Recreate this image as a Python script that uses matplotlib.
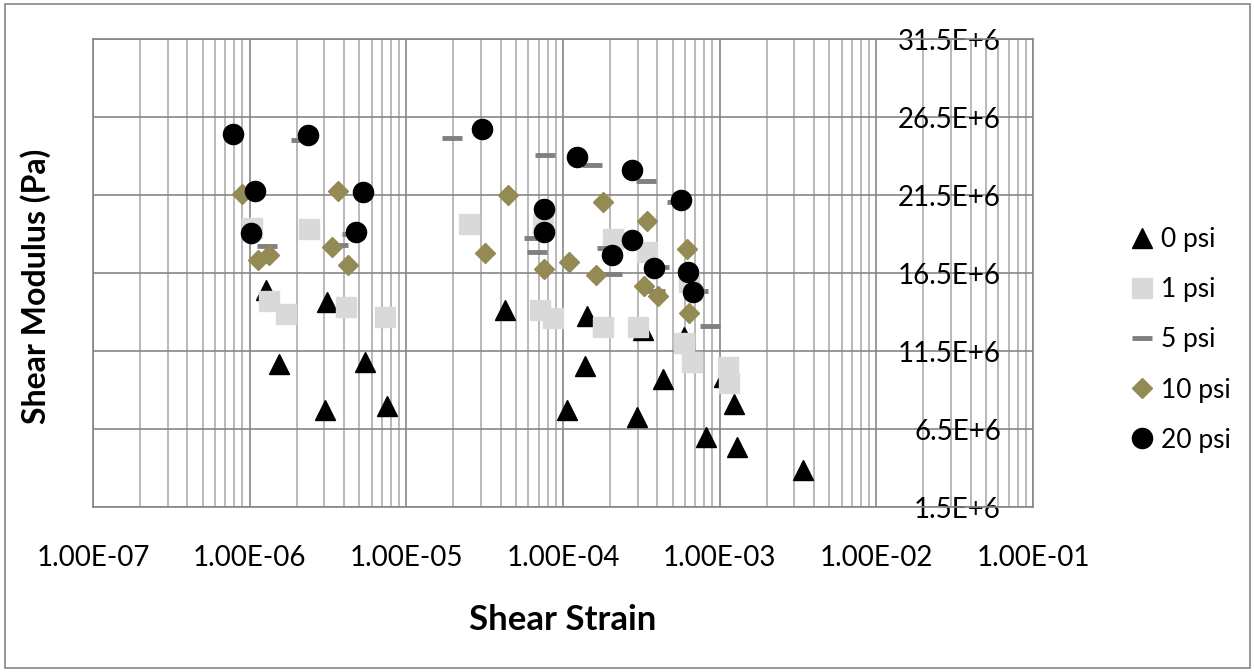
import matplotlib
matplotlib.use("Agg")
import matplotlib.pyplot as plt
import matplotlib.ticker as mticker
from matplotlib import font_manager
from matplotlib.patches import Rectangle

# font: narrow sans looks closest to the Calibri in the original
names = {f.name for f in font_manager.fontManager.ttflist}
if "Liberation Sans Narrow" in names:
    FONT, TICK_FS, LEG_FS, XT_FS, YT_FS = "Liberation Sans Narrow", 22, 21, 28, 26
else:
    FONT, TICK_FS, LEG_FS, XT_FS, YT_FS = "Lato", 20, 19, 25, 23
plt.rcParams["font.family"] = [FONT, "DejaVu Sans"]

# data: shear strain (-) and shear modulus (MPa)
strain_0 = [1.27e-6, 3.12e-6, 1.54e-6, 5.45e-6, 3.03e-6, 7.53e-6, 4.26e-5, 1.42e-4, 3.24e-4,
            1.38e-4, 4.35e-4, 1.06e-4, 2.97e-4, 1.23e-3, 8.18e-4, 1.29e-3, 3.40e-3, 5.92e-4, 1.07e-3]
mod_0 = [15.41, 14.64, 10.67, 10.79, 7.72, 7.97, 14.13, 13.74, 12.85,
         10.54, 9.71, 7.72, 7.27, 8.10, 5.99, 5.35, 3.87, 12.40, 9.83]

strain_1 = [1.03e-6, 2.39e-6, 1.33e-6, 1.71e-6, 4.12e-6, 7.31e-6, 2.51e-5, 7.45e-5, 7.13e-5, 8.63e-5,
            2.09e-4, 3.44e-4, 1.80e-4, 3.01e-4, 6.37e-4, 5.92e-4, 6.66e-4, 1.13e-3, 1.15e-3]
mod_1 = [19.38, 19.32, 14.71, 13.87, 14.32, 13.68, 19.64, 19.64, 14.13, 13.62,
         18.68, 17.85, 13.04, 13.04, 15.92, 12.01, 10.79, 10.47, 9.45]

strain_5 = [2.13e-6, 1.29e-6, 4.50e-6, 3.66e-6, 1.96e-5, 7.67e-5, 1.53e-4, 3.39e-4, 5.34e-4,
            6.53e-5, 6.82e-5, 1.91e-4, 2.06e-4, 4.10e-4, 3.87e-4, 7.27e-4, 8.67e-4]
mod_5 = [25.03, 18.23, 19.00, 18.29, 25.15, 24.06, 23.42, 22.40, 21.05,
         18.74, 17.85, 18.10, 16.44, 16.88, 15.35, 15.35, 13.10]

strain_10 = [8.93e-7, 3.66e-6, 1.13e-6, 1.33e-6, 3.35e-6, 4.24e-6, 4.46e-5, 3.18e-5, 1.80e-4,
             7.56e-5, 1.09e-4, 1.62e-4, 3.44e-4, 6.19e-4, 3.29e-4, 4.04e-4, 6.37e-4]
mod_10 = [21.56, 21.76, 17.33, 17.65, 18.17, 17.01, 21.50, 17.78, 21.05,
          16.76, 17.21, 16.37, 19.83, 18.04, 15.67, 15.03, 13.94]

strain_20 = [7.83e-7, 2.36e-6, 1.08e-6, 5.29e-6, 1.02e-6, 4.77e-6, 3.04e-5, 7.56e-5, 7.56e-5,
             1.23e-4, 2.06e-4, 2.76e-4, 2.76e-4, 3.81e-4, 5.66e-4, 6.28e-4, 6.76e-4]
mod_20 = [25.41, 25.35, 21.76, 21.69, 19.06, 19.13, 25.73, 20.60, 19.13,
          23.94, 17.65, 18.62, 23.10, 16.82, 21.18, 16.56, 15.28]

x_ticks = [1e-7, 1e-6, 1e-5, 1e-4, 1e-3, 1e-2, 1e-1]
x_labels = ["1.00E-07", "1.00E-06", "1.00E-05", "1.00E-04", "1.00E-03", "1.00E-02", "1.00E-01"]
y_ticks = [1.5e6, 6.5e6, 11.5e6, 16.5e6, 21.5e6, 26.5e6, 31.5e6]
y_labels = ["1.5E+6", "6.5E+6", "11.5E+6", "16.5E+6", "21.5E+6", "26.5E+6", "31.5E+6"]

fig = plt.figure(figsize=(12.54, 6.72), dpi=100)
ax = fig.add_axes([93/1254, 1 - 507/672, 940/1254, 468/672])

# chart area border
fig.patches.append(Rectangle((5/1254, 4/672), 1245/1254, 664/672, transform=fig.transFigure,
                             fill=False, edgecolor="#868686", linewidth=1.2))

pa = lambda v: [m * 1e6 for m in v]
ax.plot(strain_0, pa(mod_0), ls="none", marker="^", ms=14, color="black", label="0 psi", zorder=3)
ax.plot(strain_1, pa(mod_1), ls="none", marker="s", ms=14, color="#d9d9d9", label="1 psi", zorder=4)
ax.plot(strain_5, pa(mod_5), ls="none", marker="_", ms=14, mew=3.5, color="#808080",
        label="5 psi", zorder=5)
ax.plot(strain_10, pa(mod_10), ls="none", marker="D", ms=9.8, color="#948a54", label="10 psi", zorder=6)
ax.plot(strain_20, pa(mod_20), ls="none", marker="o", ms=14.5, color="black", label="20 psi", zorder=7)

ax.set_xscale("log")
ax.set_xlim(1e-7, 1e-1)
ax.set_ylim(1.5e6, 31.5e6)

ax.xaxis.set_major_locator(mticker.FixedLocator(x_ticks))
ax.xaxis.set_major_formatter(mticker.FixedFormatter(x_labels))
ax.xaxis.set_minor_locator(mticker.LogLocator(base=10, subs=range(2, 10), numticks=20))
ax.xaxis.set_minor_formatter(mticker.NullFormatter())
ax.yaxis.set_major_locator(mticker.FixedLocator(y_ticks))
ax.yaxis.set_major_formatter(mticker.FixedFormatter(y_labels))

ax.grid(which="major", color="#868686", linewidth=1.2)
ax.grid(which="minor", axis="x", color="#b3b3b3", linewidth=1.3)
ax.set_axisbelow(True)
for s in ax.spines.values():
    s.set_color("#868686")
    s.set_linewidth(1.2)

ax.tick_params(axis="x", which="both", length=0, pad=27, labelsize=TICK_FS)
ax.yaxis.tick_right()
ax.tick_params(axis="y", which="both", length=0, pad=-23, labelsize=TICK_FS)
for lab in ax.get_yticklabels():
    lab.set_horizontalalignment("right")

fig.text(563/1254, 1 - 620/672, "Shear Strain", ha="center", va="center",
         fontsize=XT_FS, fontweight="bold")
fig.text(36/1254, 1 - 286/672, "Shear Modulus (Pa)", ha="center", va="center",
         rotation=90, fontsize=YT_FS, fontweight="bold")

ax.legend(loc="center left", bbox_to_anchor=(1133/1254, 1 - 340/672), bbox_transform=fig.transFigure,
          frameon=False, fontsize=LEG_FS, handlelength=0.7, handletextpad=0.35, labelspacing=0.95,
          borderpad=0, borderaxespad=0)

fig.savefig("out.png", dpi=100)
